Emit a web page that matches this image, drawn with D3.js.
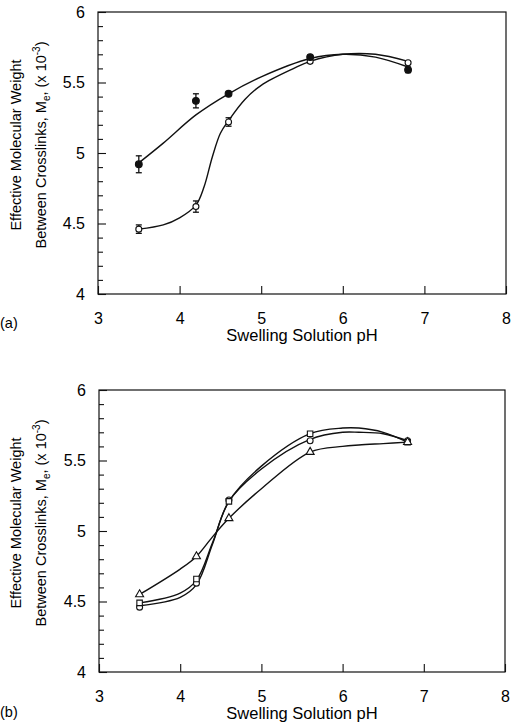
<!DOCTYPE html>
<html>
<head>
<meta charset="utf-8">
<script src="https://cdn.jsdelivr.net/npm/d3@7"></script>
<style>
  body { margin: 0; background: #fff; }
  text { font-family: "Liberation Sans", Arial, sans-serif; fill: #000; }
</style>
</head>
<body>
<div id="chart"></div>
<script>
"use strict";

// shared axis values
var pH = [3.5, 4.2, 4.6, 5.6, 6.8];
var xTicks = [3, 4, 5, 6, 7, 8];
var yTicks = [4, 4.5, 5, 5.5, 6];
var yMinor = [4.1, 4.2, 4.3, 4.4, 4.6, 4.7, 4.8, 4.9, 5.1, 5.2, 5.3, 5.4, 5.6, 5.7, 5.8, 5.9];

// panel (a)
var aFilled = [4.92, 5.37, 5.42, 5.68, 5.59];
var aFilledErr = [0.06, 0.05, 0.012, 0.012, 0.02];
var aOpen = [4.46, 4.62, 5.22, 5.65, 5.64];
var aOpenErr = [0.03, 0.04, 0.03, 0.01, 0.01];
var aFilledFitX = [3.5, 3.8, 4.2, 4.6, 5.0, 5.6, 6.0, 6.4, 6.8];
var aFilledFitY = [4.93, 5.07, 5.27, 5.42, 5.54, 5.67, 5.70, 5.68, 5.61];
var aOpenFitX = [3.5, 3.8, 4.0, 4.2, 4.3, 4.4, 4.5, 4.6, 4.8, 5.0, 5.4, 5.6, 6.0, 6.4, 6.8];
var aOpenFitY = [4.46, 4.49, 4.54, 4.63, 4.76, 4.97, 5.14, 5.23, 5.38, 5.48, 5.60, 5.65, 5.70, 5.70, 5.65];

// panel (b)
var bCircle = [4.46, 4.63, 5.22, 5.64, 5.64];
var bSquare = [4.49, 4.66, 5.21, 5.69, 5.63];
var bTriangle = [4.55, 4.82, 5.09, 5.56, 5.63];
var bFitX = [3.5, 4.0, 4.2, 4.4, 4.6, 5.0, 5.6, 6.0, 6.2, 6.5, 6.8];
var bCircleFit = [4.47, 4.53, 4.62, 4.91, 5.21, 5.44, 5.65, 5.70, 5.70, 5.69, 5.64];
var bSquareFit = [4.49, 4.56, 4.65, 4.92, 5.21, 5.46, 5.69, 5.73, 5.73, 5.70, 5.63];
var bTriangleFit = [4.55, 4.73, 4.82, 4.96, 5.09, 5.30, 5.56, 5.60, 5.61, 5.62, 5.63];

var width = 511, height = 725;

var svg = d3.select("#chart").append("svg")
  .attr("width", width)
  .attr("height", height);

function zip(xs, ys, err) {
  return xs.map(function(x, i) { return {x: x, y: ys[i], e: err ? err[i] : 0}; });
}

function drawPanel(box, tag, fits, series) {
  var x = d3.scaleLinear().domain([3, 8]).range([box.left, box.right]);
  var y = d3.scaleLinear().domain([4, 6]).range([box.bottom, box.top]);
  var g = svg.append("g");

  // frame
  g.append("rect")
    .attr("x", box.left).attr("y", box.top)
    .attr("width", box.right - box.left).attr("height", box.bottom - box.top)
    .attr("fill", "none").attr("stroke", "#111").attr("stroke-width", 1.2);

  // x axis, ticks pointing inward
  var xAxis = g.append("g")
    .attr("transform", "translate(0," + box.bottom + ")")
    .call(d3.axisBottom(x).tickValues(xTicks).tickSize(-8).tickPadding(19).tickFormat(d3.format("d")));
  xAxis.select(".domain").remove();
  xAxis.selectAll("text").attr("font-size", 16).style("font-family", "Liberation Sans, Arial");

  // y axis, major + minor inward ticks
  var yAxis = g.append("g")
    .attr("transform", "translate(" + box.left + ",0)")
    .call(d3.axisLeft(y).tickValues(yTicks).tickSize(-8).tickPadding(13).tickFormat(d3.format("")));
  yAxis.select(".domain").remove();
  yAxis.selectAll("text").attr("font-size", 16).style("font-family", "Liberation Sans, Arial");
  g.append("g")
    .attr("transform", "translate(" + box.left + ",0)")
    .call(d3.axisLeft(y).tickValues(yMinor).tickSize(-5).tickFormat(""))
    .select(".domain").remove();
  g.selectAll(".tick line").attr("stroke", "#111").attr("stroke-width", 1.1);

  // axis titles
  g.append("text")
    .attr("x", (box.left + box.right) / 2).attr("y", box.bottom + 47)
    .attr("text-anchor", "middle").attr("font-size", 16.5)
    .text("Swelling Solution pH");

  var cy = (box.top + box.bottom) / 2 - 8;
  g.append("text")
    .attr("transform", "translate(21," + cy + ") rotate(-90)")
    .attr("text-anchor", "middle").attr("font-size", 14.5)
    .text("Effective Molecular Weight");
  var t2 = g.append("text")
    .attr("transform", "translate(46," + cy + ") rotate(-90)")
    .attr("text-anchor", "middle").attr("font-size", 14.5);
  t2.append("tspan").text("Between Crosslinks, M");
  t2.append("tspan").attr("font-size", 10).attr("dy", 4).text("e");
  t2.append("tspan").attr("dy", -4).text(", (x 10");
  t2.append("tspan").attr("font-size", 10).attr("dy", -6).text("-3");
  t2.append("tspan").attr("dy", 6).text(")");

  g.append("text")
    .attr("x", 0).attr("y", box.bottom + tag.dy)
    .attr("font-size", 14.5).text(tag.text);

  // fitted curves
  var line = d3.line()
    .x(function(d) { return x(d.x); })
    .y(function(d) { return y(d.y); })
    .curve(d3.curveCatmullRom.alpha(0.5));
  fits.forEach(function(f) {
    g.append("path")
      .datum(f)
      .attr("d", line)
      .attr("fill", "none")
      .attr("stroke", "#111")
      .attr("stroke-width", 1.4);
  });

  // points with error bars
  series.forEach(function(s) {
    var pts = g.append("g").selectAll("g").data(s.data).enter().append("g");
    pts.filter(function(d) { return d.e > 0; }).each(function(d) {
      var p = d3.select(this);
      p.append("line").attr("x1", x(d.x)).attr("x2", x(d.x))
        .attr("y1", y(d.y - d.e)).attr("y2", y(d.y + d.e));
      p.append("line").attr("x1", x(d.x) - 3).attr("x2", x(d.x) + 3)
        .attr("y1", y(d.y - d.e)).attr("y2", y(d.y - d.e));
      p.append("line").attr("x1", x(d.x) - 3).attr("x2", x(d.x) + 3)
        .attr("y1", y(d.y + d.e)).attr("y2", y(d.y + d.e));
      p.selectAll("line").attr("stroke", "#111").attr("stroke-width", 1.3);
    });
    pts.append("path")
      .attr("transform", function(d) { return "translate(" + x(d.x) + "," + y(d.y) + ")"; })
      .attr("d", d3.symbol().type(s.symbol).size(s.size))
      .attr("fill", s.fill)
      .attr("stroke", "#111")
      .attr("stroke-width", 1.1);
  });
}

drawPanel({left: 98, right: 506, top: 12, bottom: 294}, {text: "(a)", dy: 34},
  [zip(aFilledFitX, aFilledFitY), zip(aOpenFitX, aOpenFitY)],
  [
    {data: zip(pH, aOpen, aOpenErr), symbol: d3.symbolCircle, size: 28, fill: "#fff"},
    {data: zip(pH, aFilled, aFilledErr), symbol: d3.symbolCircle, size: 36, fill: "#111"}
  ]);

drawPanel({left: 99, right: 505, top: 390, bottom: 672}, {text: "(b)", dy: 45},
  [zip(bFitX, bCircleFit), zip(bFitX, bSquareFit), zip(bFitX, bTriangleFit)],
  [
    {data: zip(pH, bCircle), symbol: d3.symbolCircle, size: 28, fill: "#fff"},
    {data: zip(pH, bSquare), symbol: d3.symbolSquare, size: 30, fill: "#fff"},
    {data: zip(pH, bTriangle), symbol: d3.symbolTriangle, size: 28, fill: "#fff"}
  ]);
</script>
</body>
</html>
